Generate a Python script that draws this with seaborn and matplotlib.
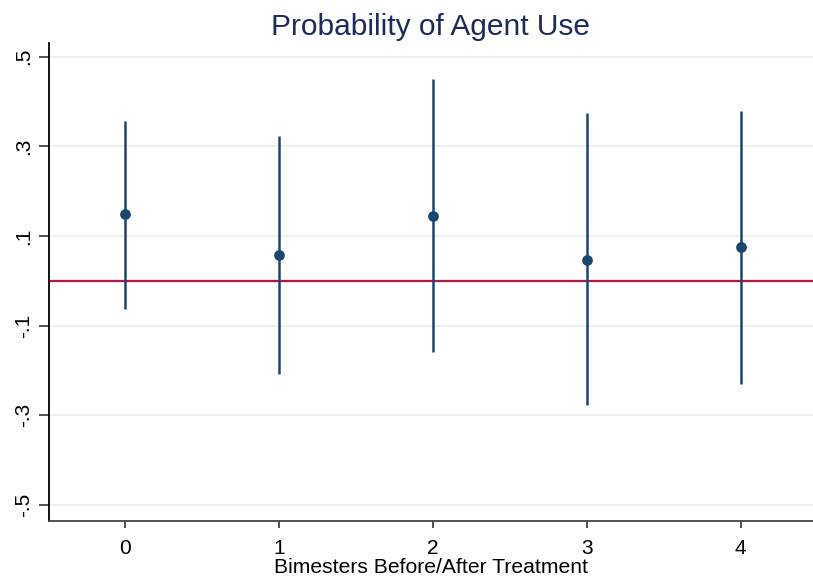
import matplotlib
matplotlib.use("Agg")
import matplotlib.pyplot as plt
import seaborn as sns
import pandas as pd
import numpy as np

periods = [0, 1, 2, 3, 4]
estimates = [0.150, 0.058, 0.145, 0.047, 0.076]
ci_low = [-0.062, -0.207, -0.158, -0.277, -0.230]
ci_high = [0.357, 0.324, 0.451, 0.375, 0.379]
ytick_vals = [-0.5, -0.3, -0.1, 0.1, 0.3, 0.5]
ytick_labels = ["-.5", "-.3", "-.1", ".1", ".3", ".5"]

sns.set_theme(style="white")
plt.rcParams['font.family'] = ['Liberation Sans', 'DejaVu Sans']

df = pd.DataFrame({"period": periods, "est": estimates, "lo": ci_low, "hi": ci_high})

fig = plt.figure(figsize=(8.13, 5.79), dpi=100)
ax = fig.add_axes([0.0597, 0.101, 0.9403, 0.825])

navy = "#1a476f"
ax.axhline(0, color="#b5163f", lw=1.6, zorder=2)
ax.vlines(df["period"], df["lo"], df["hi"], color=navy, lw=1.8, zorder=3)
sns.scatterplot(data=df, x="period", y="est", color=navy, s=60, edgecolor=navy,
                linewidth=0, zorder=4, ax=ax, legend=False)

ax.set_xlim(-0.5, 4.47)
ax.set_ylim(-0.5346, 0.531)
ax.set_yticks(ytick_vals)
ax.set_yticklabels(ytick_labels, rotation=90, va="center", fontsize=15)
ax.set_xticks(periods)
ax.set_xticklabels([str(p) for p in periods], fontsize=15)
for y in ytick_vals:
    ax.axhline(y, color="#eaf2f3", lw=1.5, zorder=1)

ax.tick_params(axis="both", which="both", direction="out", length=7, width=1.2,
               color="#333333", labelcolor="black", left=True, bottom=True, pad=4)
ax.tick_params(axis="x", length=5, pad=8)
for s in ["top", "right"]:
    ax.spines[s].set_visible(False)
ax.spines["left"].set_color("black")
ax.spines["left"].set_linewidth(1.3)
ax.spines["bottom"].set_color("#444444")
ax.spines["bottom"].set_linewidth(1.3)

ax.set_xlabel("Bimesters Before/After Treatment", fontsize=15.2, labelpad=0, color="black")
ax.set_ylabel("")
ax.set_title("Probability of Agent Use", fontsize=21.5, color="#1c2b5a", pad=6)

fig.savefig("out.png", dpi=100)
